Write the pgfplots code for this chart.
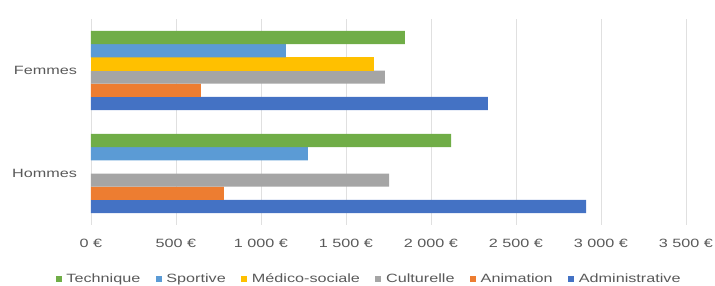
\documentclass[border=0pt]{standalone}
\usepackage{fontspec}
\setmainfont{Liberation Sans}[FakeStretch=1.35]
\usepackage{pgfplots}
\pgfplotsset{compat=1.18}
\definecolor{cAdm}{HTML}{4472C4}
\definecolor{cAni}{HTML}{ED7D31}
\definecolor{cCul}{HTML}{A5A5A5}
\definecolor{cMed}{HTML}{FFC000}
\definecolor{cSpo}{HTML}{5B9BD5}
\definecolor{cTec}{HTML}{70AD47}
\definecolor{txt}{HTML}{595959}
\begin{document}
\begin{tikzpicture}
\begin{axis}[
  at={(0,0)}, anchor=south west,
  scale only axis, width=446.25pt, height=154.5pt,
  xbar=0pt, bar width=0.128,
  xmin=0, xmax=3500, ymin=-0.5, ymax=1.5,
  xtick={0,500,1000,1500,2000,2500,3000,3500},
  xticklabels={0 €,500 €,1 000 €,1 500 €,2 000 €,2 500 €,3 000 €,3 500 €},
  ytick={0,1}, yticklabels={Hommes,Femmes},
  xmajorgrids, grid style={draw=black!12, line width=0.6pt},
  axis line style={draw=none}, major tick length=0pt,
  tick label style={font=\fontsize{9}{10}\selectfont, text=txt},
  xticklabel style={yshift=-7pt},
  yticklabel style={xshift=-7pt},
  reverse legend,
  legend columns=6,
  legend style={draw=none, at={(0.468,-0.262)}, anchor=center, font=\fontsize{9}{10}\selectfont, text=txt,
    /tikz/every even column/.append style={column sep=9.5pt},
    /tikz/every odd column/.append style={column sep=1.5pt}},
  legend image code/.code={\fill[#1] (0pt,-2.3pt) rectangle (4.6pt,2.3pt);},
]
\addplot[fill=cAdm, draw=none] coordinates {(2912,0) (2335,1)};
\addlegendentry{Administrative}
\addplot[fill=cAni, draw=none] coordinates {(782,0) (647,1)};
\addlegendentry{Animation}
\addplot[fill=cCul, draw=none] coordinates {(1753,0) (1729,1)};
\addlegendentry{Culturelle}
\addplot[fill=cMed, draw=none] coordinates {(1665,1)};
\addlegendentry{Médico-sociale}
\addplot[fill=cSpo, draw=none] coordinates {(1276,0) (1147,1)};
\addlegendentry{Sportive}
\addplot[fill=cTec, draw=none] coordinates {(2118,0) (1847,1)};
\addlegendentry{Technique}
\end{axis}
\pgfresetboundingbox
\path (-68.25pt,-45.75pt) rectangle (468pt,168.75pt);
\end{tikzpicture}
\end{document}
